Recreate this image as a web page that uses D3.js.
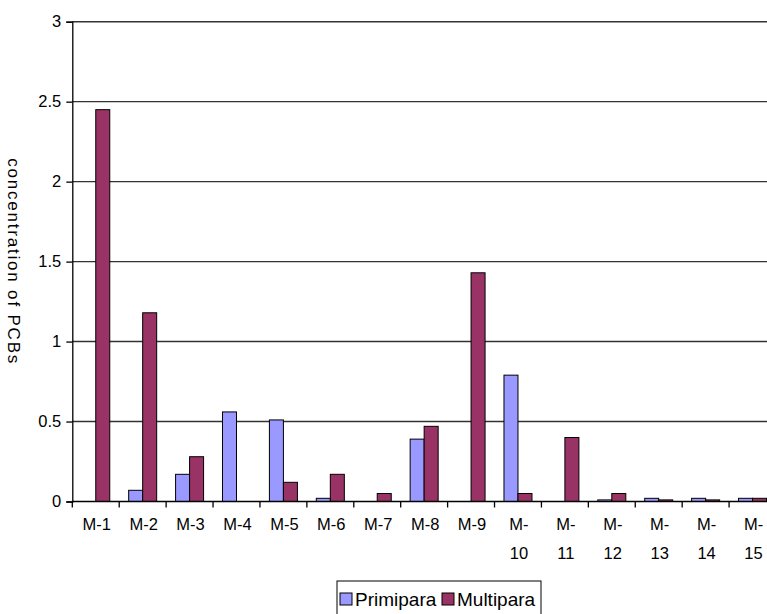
<!DOCTYPE html>
<html>
<head>
<meta charset="utf-8">
<script src="https://cdn.jsdelivr.net/npm/d3@7"></script>
<style>
  body { margin: 0; background: #fff; }
  text { font-family: "Liberation Sans", Arial, sans-serif; fill: #000; }
</style>
</head>
<body>
<svg id="chart" width="767" height="614"></svg>
<script>
// data
var categories = ["M-1","M-2","M-3","M-4","M-5","M-6","M-7","M-8","M-9","M-10","M-11","M-12","M-13","M-14","M-15"];
var series = ["Primipara", "Multipara"];
var primipara = [0, 0.07, 0.17, 0.56, 0.51, 0.02, 0, 0.39, 0, 0.79, 0, 0.01, 0.02, 0.02, 0.02];
var multipara = [2.45, 1.18, 0.28, 0, 0.12, 0.17, 0.05, 0.47, 1.43, 0.05, 0.40, 0.05, 0.01, 0.01, 0.02];
var yTicks = [0, 0.5, 1, 1.5, 2, 2.5, 3];
var colors = ["#9999ff", "#993366"];

var svg = d3.select("#chart");
var pLeft = 72.3, pRight = 776, pTop = 21.7, pBottom = 501.5;

var x0 = d3.scaleBand().domain(categories).range([pLeft, pRight]).padding(0);
var x1 = d3.scaleBand().domain(series).range([0, x0.bandwidth()])
  .paddingInner(0).paddingOuter(0.675);
var y = d3.scaleLinear().domain([0, 3]).range([pBottom, pTop]);

// gridlines
svg.append("g").selectAll("line").data(yTicks.slice(1)).enter().append("line")
  .attr("x1", pLeft).attr("x2", pRight)
  .attr("y1", function(d) { return y(d); }).attr("y2", function(d) { return y(d); })
  .attr("stroke", "#333").attr("stroke-width", 1.4);

// bars
var rows = categories.map(function(c, i) {
  return { cat: c, vals: [primipara[i], multipara[i]] };
});
var groups = svg.append("g").selectAll("g").data(rows).enter().append("g")
  .attr("transform", function(d) { return "translate(" + x0(d.cat) + ",0)"; });
groups.selectAll("rect")
  .data(function(d) { return d.vals.map(function(v, j) { return { s: series[j], v: v, j: j }; }).filter(function(e) { return e.v > 0; }); })
  .enter().append("rect")
  .attr("x", function(d) { return x1(d.s); })
  .attr("width", x1.bandwidth())
  .attr("y", function(d) { return y(d.v); })
  .attr("height", function(d) { return pBottom - y(d.v); })
  .attr("fill", function(d) { return colors[d.j]; })
  .attr("stroke", "#000").attr("stroke-width", 1);

// y axis
var yAxis = svg.append("g").attr("transform", "translate(" + pLeft + ",0)")
  .call(d3.axisLeft(y).tickValues(yTicks).tickSize(6).tickPadding(5).tickFormat(d3.format("")));
yAxis.select(".domain").attr("stroke", "#000").attr("stroke-width", 1.3);
yAxis.selectAll(".tick line").attr("stroke", "#000").attr("stroke-width", 1.3);
yAxis.selectAll("text").style("font-size", "16.5px").style("font-family", "Liberation Sans, Arial, sans-serif");

// x axis, ticks on category boundaries
svg.append("line").attr("x1", pLeft).attr("x2", pRight).attr("y1", pBottom).attr("y2", pBottom)
  .attr("stroke", "#000").attr("stroke-width", 1.3);
svg.append("g").selectAll("line").data(categories).enter().append("line")
  .attr("x1", function(d) { return x0(d); }).attr("x2", function(d) { return x0(d); })
  .attr("y1", pBottom).attr("y2", pBottom + 6)
  .attr("stroke", "#000").attr("stroke-width", 1.3);

var labels = svg.append("g").selectAll("text").data(categories).enter().append("text")
  .attr("x", function(d) { return x0(d) + x0.bandwidth() / 2 + 1; })
  .attr("y", 530)
  .attr("text-anchor", "middle")
  .style("font-size", "16.5px");
labels.each(function(d) {
  var t = d3.select(this);
  if (d.length > 3) {
    t.append("tspan").attr("x", t.attr("x")).text("M-");
    t.append("tspan").attr("x", t.attr("x")).attr("dy", 29).text(d.slice(2));
  } else {
    t.text(d);
  }
});

// y title
svg.append("text")
  .attr("transform", "translate(8," + ((pTop + pBottom) / 2) + ") rotate(90)")
  .attr("text-anchor", "middle")
  .style("font-size", "17px")
  .style("letter-spacing", "1.8px")
  .text("concentration of PCBs");

// legend
var lg = svg.append("g").attr("transform", "translate(337,581)");
lg.append("rect").attr("x", 0).attr("y", 0).attr("width", 204).attr("height", 34)
  .attr("fill", "#fff").attr("stroke", "#000").attr("stroke-width", 1);
var legendX = [3, 105];
series.forEach(function(s, i) {
  lg.append("rect").attr("x", legendX[i]).attr("y", 12).attr("width", 12).attr("height", 12)
    .attr("fill", colors[i]).attr("stroke", "#000").attr("stroke-width", 1);
  lg.append("text").attr("x", legendX[i] + 15).attr("y", 25)
    .style("font-size", "19px").text(s);
});
</script>
</body>
</html>
